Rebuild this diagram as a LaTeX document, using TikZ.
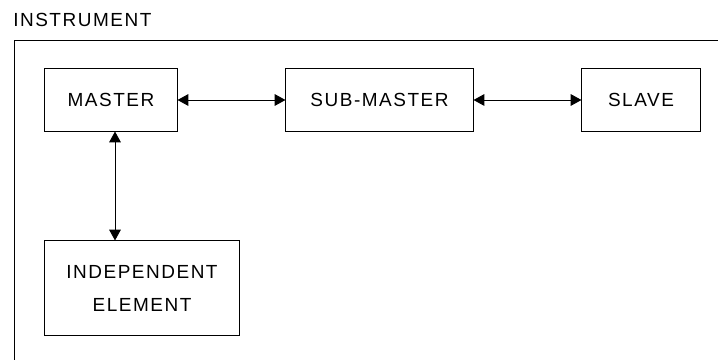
\documentclass[tikz,border=0pt]{standalone}
\usepackage{fontspec}
\setmainfont[LetterSpace=8]{Liberation Sans}
\usetikzlibrary{arrows.meta, positioning}

\tikzset{
	unitbox/.style={draw, line width=0.7pt, minimum height=1.55cm, inner sep=0pt,
		font=\fontsize{13.5pt}{23.5pt}\selectfont, align=center},
	dbl/.style={{Triangle[length=2.7mm,width=2.9mm]}-{Triangle[length=2.7mm,width=2.9mm]}, line width=0.7pt}
}

\begin{document}
\begin{tikzpicture}[x=0.025cm,y=-0.025cm]
	\useasboundingbox (0,0) rectangle (718,360);
	
	% instrument frame
	\node[anchor=base west, inner sep=0pt, font=\fontsize{13.5pt}{16pt}\selectfont] (instr) at (13,27) {INSTRUMENT};
	\draw[line width=0.7pt] (718,40) -- (14,40) -- (14,360);
	
	% units
	\node[unitbox, minimum width=3.3cm] (master) at (111,100) {MASTER};
	\node[unitbox, minimum width=4.675cm] (sub) at (379.5,100) {SUB-MASTER};
	\node[unitbox, minimum width=2.95cm] (slave) at (641,100) {SLAVE};
	\node[unitbox, minimum width=4.85cm, minimum height=2.35cm] (indep) at (142,288) {INDEPENDENT\\ELEMENT};
	
	% links
	\draw[dbl] (master) -- (sub);
	\draw[dbl] (sub) -- (slave);
	\draw[dbl] ([xshift=0.1cm]master.south) -- ([xshift=0.1cm]master.south |- indep.north);
\end{tikzpicture}
\end{document}
